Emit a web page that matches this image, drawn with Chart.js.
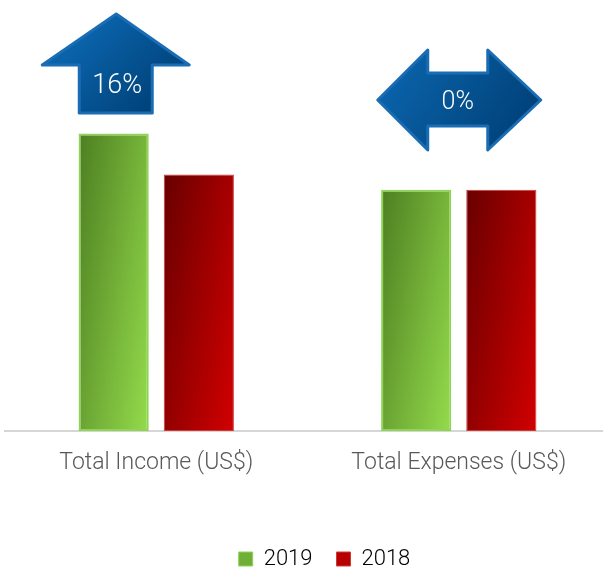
<!DOCTYPE html>
<html>
<head>
<meta charset="utf-8">
<script src="https://cdn.jsdelivr.net/npm/chart.js@4.4.0/dist/chart.umd.min.js"></script>
<style>
html,body{margin:0;padding:0;background:#fff;overflow:hidden;}
#wrap{width:603px;height:567px;position:relative;overflow:hidden;}
canvas{position:absolute;left:0;top:0;}
</style>
</head>
<body>
<div id="wrap"><canvas id="c" width="610" height="580"></canvas></div>
<script>
const categories = ["Total Income (US$)", "Total Expenses (US$)"];
const series2019 = [116, 94];
const series2018 = [100, 94];
const changeLabels = ["16%", "0%"];
const seriesNames = ["2019", "2018"];

const FONT = 'Roboto, "Liberation Sans", sans-serif';
const AXIS_BOTTOM = 431;

function barGradient(ctx, dark, mid, light) {
  const el = ctx.element;
  const chart = ctx.chart;
  if (!el || !el.width || !chart.chartArea) return mid;
  const w = el.width, h = Math.max(1, el.base - el.y);
  const x0 = el.x - w / 2, y0 = el.y;
  const a = 0.6, b = 0.4;
  const dx = a / w, dy = b / h;
  const n = dx * dx + dy * dy;
  const g = chart.ctx.createLinearGradient(x0, y0, x0 + dx / n, y0 + dy / n);
  g.addColorStop(0, dark);
  g.addColorStop(1, light);
  return g;
}

const legendShift = {
  id: 'legendShift',
  afterLayout(chart) {
    if (chart.legend) chart.legend.left += 34;
  }
};

const arrowPlugin = {
  id: 'arrows',
  afterDatasetsDraw(chart) {
    const c = chart.ctx;
    const xs = chart.scales.x;
    const cx0 = xs.getPixelForValue(0);
    const cx1 = xs.getPixelForValue(1);
    function fillShape(pts, gx0, gy0, gx1, gy1) {
      c.save();
      c.beginPath();
      pts.forEach((p, i) => i ? c.lineTo(p[0], p[1]) : c.moveTo(p[0], p[1]));
      c.closePath();
      const g = c.createLinearGradient(gx0, gy0, gx1, gy1);
      g.addColorStop(0, '#004178');
      g.addColorStop(1, '#0a63aa');
      c.fillStyle = g;
      c.fill();
      c.lineJoin = 'round';
      c.lineWidth = 3;
      c.strokeStyle = '#1a6db5';
      c.stroke();
      c.restore();
    }
    const ux = cx0 - 40;
    fillShape([
      [ux, 14], [ux + 73, 65], [ux + 36, 65], [ux + 36, 113],
      [ux - 37, 113], [ux - 37, 65], [ux - 74, 65]
    ], ux + 36, 113, ux - 37, 40);
    const dx = cx1;
    fillShape([
      [dx - 81, 100], [dx - 31, 50], [dx - 31, 73], [dx + 29, 73], [dx + 29, 50],
      [dx + 82, 100], [dx + 29, 150], [dx + 29, 126], [dx - 31, 126], [dx - 31, 150]
    ], dx + 60, 140, dx - 60, 60);
    c.save();
    c.fillStyle = '#ffffff';
    c.textAlign = 'center';
    c.textBaseline = 'middle';
    c.font = '300 27px ' + FONT;
    c.fillText(changeLabels[0], ux + 1, 86);
    c.font = '300 25px ' + FONT;
    c.fillText(changeLabels[1], dx - 1, 103);
    c.restore();
  }
};

const chart = new Chart(document.getElementById('c'), {
  type: 'bar',
  data: {
    labels: categories,
    datasets: [
      {
        label: seriesNames[0],
        data: series2019,
        backgroundColor: (ctx) => barGradient(ctx, '#4d7e21', '#72aa34', '#94dc4c'),
        borderColor: '#8fd455',
        borderWidth: 2,
        borderSkipped: false,
        categoryPercentage: 0.563,
        barPercentage: 0.824
      },
      {
        label: seriesNames[1],
        data: series2018,
        backgroundColor: (ctx) => barGradient(ctx, '#680000', '#a80000', '#d20000'),
        borderColor: '#d23a3a',
        borderWidth: 1,
        borderSkipped: false,
        categoryPercentage: 0.563,
        barPercentage: 0.824
      }
    ]
  },
  options: {
    responsive: false,
    animation: false,
    layout: { padding: { left: 5, right: 0, top: 0, bottom: 0 } },
    plugins: {
      tooltip: { enabled: false },
      legend: {
        position: 'bottom',
        labels: {
          boxWidth: 14,
          boxHeight: 14,
          color: '#595959',
          font: { family: FONT, size: 22, weight: '300' },
          padding: 24,
          generateLabels: (chart) => chart.data.datasets.map((ds, i) => ({
            text: ds.label,
            fillStyle: i === 0 ? '#6fae37' : '#b80000',
            strokeStyle: i === 0 ? '#8fd455' : '#d23a3a',
            lineWidth: 1,
            datasetIndex: i
          }))
        }
      }
    },
    scales: {
      x: {
        grid: { display: false },
        border: { display: true, color: '#d6d6d6', width: 2 },
        ticks: {
          color: '#595959',
          padding: 10,
          font: { family: FONT, size: 23, weight: '300' }
        },
        afterFit(scale) {
          const lh = (scale.chart.legend && scale.chart.legend.height) || 70;
          scale.height = scale.chart.height - AXIS_BOTTOM - lh;
        }
      },
      y: {
        display: false,
        min: 0,
        max: 168
      }
    }
  },
  plugins: [arrowPlugin, legendShift]
});
chart.update('none');
</script>
</body>
</html>
